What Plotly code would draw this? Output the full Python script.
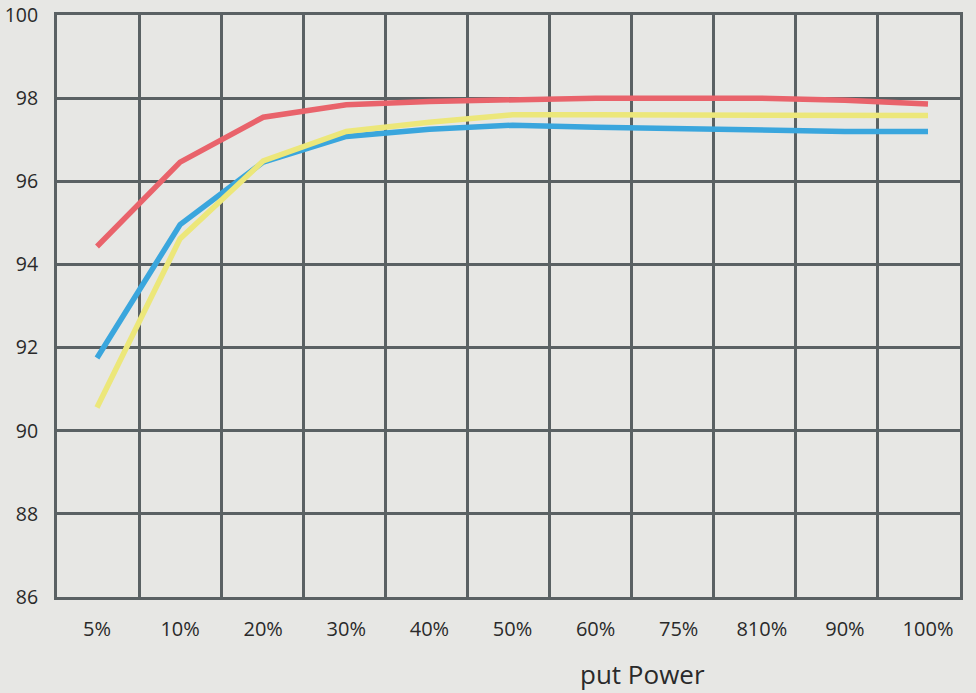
import plotly.graph_objects as go

categories = ["5%", "10%", "20%", "30%", "40%", "50%", "60%", "75%", "810%", "90%", "100%"]
red_values = [94.43, 96.46, 97.54, 97.84, 97.92, 97.97, 98.0, 98.0, 98.0, 97.95, 97.86]
blue_values = [91.75, 94.96, 96.46, 97.08, 97.25, 97.35, 97.30, 97.26, 97.21, 97.20, 97.20]
yellow_values = [90.56, 94.62, 96.49, 97.20, 97.42, 97.60, 97.60, 97.59, 97.59, 97.58, 97.58]
y_ticks = [86, 88, 90, 92, 94, 96, 98, 100]

W, H = 976, 693
ML, MR, MT, MB = 57, 16, 15, 96
BG = "#e7e7e4"
GRID = "#5a6163"
FONT = "Open Sans"

xs = list(range(len(categories)))
# data index 0 sits 40px right of the left frame; last index 32px left of the right frame
px_per = (928 - 97) / (len(categories) - 1)
x_range = [-(97 - ML) / px_per, (len(categories) - 1) + (W - MR - 928) / px_per]

fig = go.Figure()
for vals, col in [(blue_values, "#3aa6dd"), (yellow_values, "#ece77a"), (red_values, "#e9636b")]:
    fig.add_trace(go.Scatter(x=xs, y=vals, mode="lines",
                             line=dict(color=col, width=5.5), showlegend=False,
                             hoverinfo="skip"))

fig.update_layout(
    width=W, height=H,
    margin=dict(l=ML, r=MR, t=MT, b=MB, autoexpand=False),
    paper_bgcolor=BG, plot_bgcolor=BG,
    font=dict(family=FONT, color="#2a2a2a", size=19),
    xaxis=dict(range=x_range, tickmode="array", tickvals=xs, ticktext=categories,
               showgrid=False, zeroline=False, automargin=False,
               showline=True, linecolor=GRID, linewidth=3, mirror=True,
               ticks="", ticklabelstandoff=12, tickfont=dict(size=20)),
    xaxis2=dict(overlaying="x", range=[0, 11], tickmode="linear", tick0=0, dtick=1,
                showticklabels=False, showgrid=True, gridcolor=GRID, gridwidth=3,
                zeroline=False, showline=False, ticks="", automargin=False),
    yaxis=dict(range=[86, 100], tickmode="array", tickvals=y_ticks,
               showgrid=True, gridcolor=GRID, gridwidth=3, zeroline=False,
               showline=True, linecolor=GRID, linewidth=3, mirror=True, automargin=False,
               ticks="", ticklabelstandoff=12, ticklabeloverflow="allow",
               tickfont=dict(size=19.5)),
)
# invisible trace to activate the grid axis
fig.add_trace(go.Scatter(x=[0, 11], y=[86, 86], xaxis="x2", mode="lines",
                         line=dict(width=0), showlegend=False, hoverinfo="skip"))

fig.add_annotation(text="put Power", xref="paper", yref="paper",
                   x=(642 - ML) / (W - ML - MR), y=-(674 - (H - MB)) / (H - MT - MB),
                   xanchor="center", yanchor="middle", showarrow=False,
                   font=dict(family=FONT, size=26, color="#2a2a2a"))

fig.write_html("out.html", config={"displayModeBar": False},
               post_script="document.body.style.margin='0';document.body.style.overflow='hidden';")
